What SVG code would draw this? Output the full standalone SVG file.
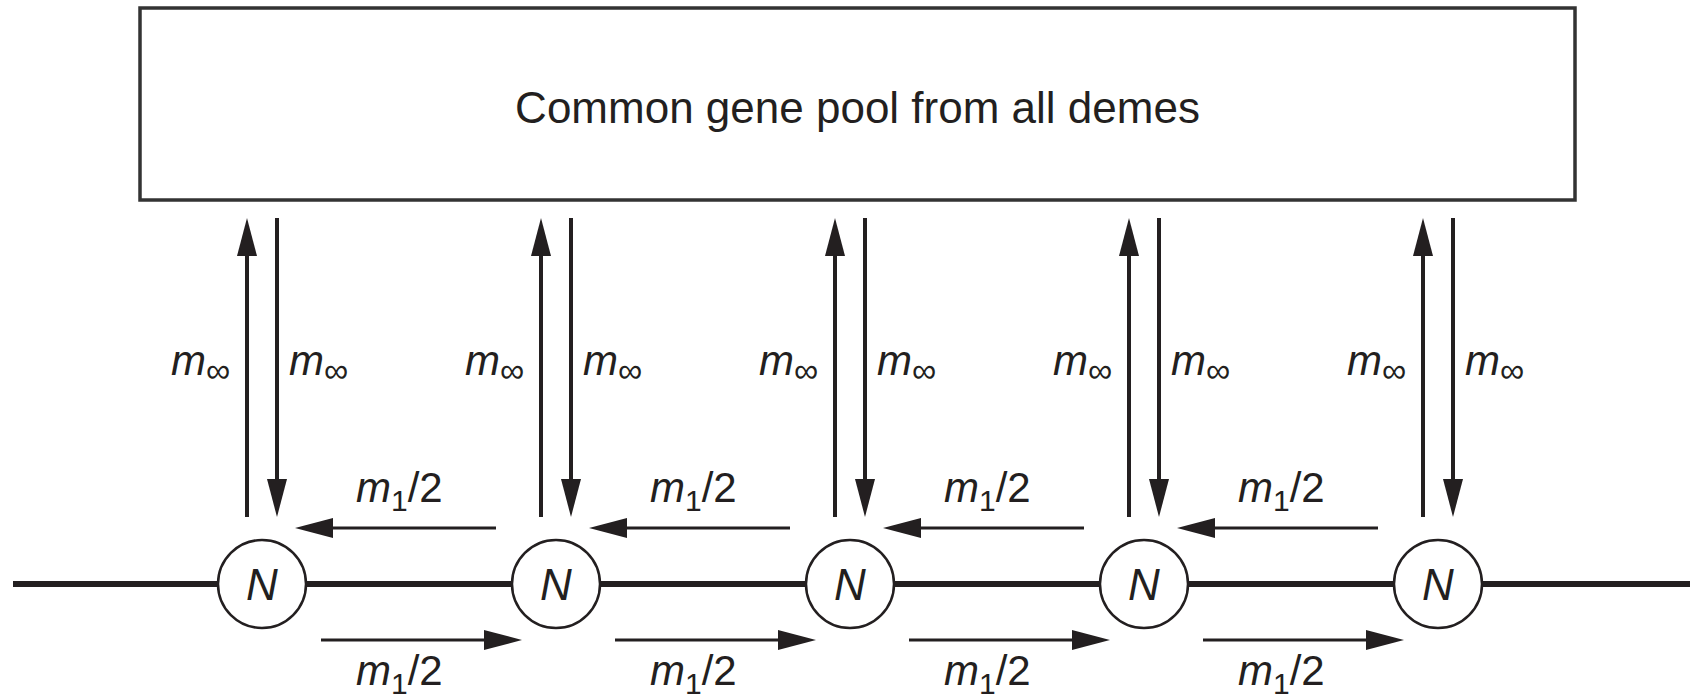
<svg xmlns="http://www.w3.org/2000/svg" width="1694" height="700" viewBox="0 0 1694 700">
<defs>
<marker id="ah" markerUnits="userSpaceOnUse" viewBox="0 0 38 20" refX="2" refY="10" markerWidth="38" markerHeight="20" orient="auto">
<path d="M0,0 L38,10 L0,20 z" fill="#231f20"/>
</marker>
</defs>
<style>
.box{fill:#fff;stroke:#333;stroke-width:3.5}
.title{font-family:"Liberation Sans",Arial,sans-serif;font-size:44px;fill:#231f20}
.lbl{font-family:"Liberation Sans",Arial,sans-serif;font-size:42px;fill:#231f20}
.it{font-style:italic}
.sub{font-size:30px}
.inf{font-size:34px}
.v{stroke:#231f20;stroke-width:4;fill:none}
.h{stroke:#231f20;stroke-width:3.2;fill:none}
.axis{stroke:#231f20;stroke-width:6;fill:none}
.node circle{fill:#fff;stroke:#231f20;stroke-width:2.5}
.node text{font-family:"Liberation Sans",Arial,sans-serif;font-style:italic;font-size:44px;fill:#231f20;text-anchor:middle}
</style>
<rect width="1694" height="700" fill="#fff"/>
<g id="pool">
<rect class="box" x="140" y="8" width="1435" height="192"/>
<text class="title" x="857.5" y="123" text-anchor="middle">Common gene pool from all demes</text>
</g>
<g id="connectors">
<line class="axis" x1="13" y1="584" x2="1690" y2="584"/>
<line class="v" x1="247" y1="517" x2="247" y2="254" marker-end="url(#ah)"/>
<line class="v" x1="277" y1="218" x2="277" y2="481" marker-end="url(#ah)"/>
<line class="v" x1="541" y1="517" x2="541" y2="254" marker-end="url(#ah)"/>
<line class="v" x1="571" y1="218" x2="571" y2="481" marker-end="url(#ah)"/>
<line class="v" x1="835" y1="517" x2="835" y2="254" marker-end="url(#ah)"/>
<line class="v" x1="865" y1="218" x2="865" y2="481" marker-end="url(#ah)"/>
<line class="v" x1="1129" y1="517" x2="1129" y2="254" marker-end="url(#ah)"/>
<line class="v" x1="1159" y1="218" x2="1159" y2="481" marker-end="url(#ah)"/>
<line class="v" x1="1423" y1="517" x2="1423" y2="254" marker-end="url(#ah)"/>
<line class="v" x1="1453" y1="218" x2="1453" y2="481" marker-end="url(#ah)"/>
<line class="h" x1="496" y1="528" x2="331" y2="528" marker-end="url(#ah)"/>
<line class="h" x1="790" y1="528" x2="625" y2="528" marker-end="url(#ah)"/>
<line class="h" x1="1084" y1="528" x2="919" y2="528" marker-end="url(#ah)"/>
<line class="h" x1="1378" y1="528" x2="1213" y2="528" marker-end="url(#ah)"/>
<line class="h" x1="321" y1="640" x2="486" y2="640" marker-end="url(#ah)"/>
<line class="h" x1="615" y1="640" x2="780" y2="640" marker-end="url(#ah)"/>
<line class="h" x1="909" y1="640" x2="1074" y2="640" marker-end="url(#ah)"/>
<line class="h" x1="1203" y1="640" x2="1368" y2="640" marker-end="url(#ah)"/>
</g>
<g id="labels">
<text class="lbl" x="171" y="375"><tspan class="it">m</tspan><tspan class="inf" dy="7">∞</tspan></text>
<text class="lbl" x="289" y="375"><tspan class="it">m</tspan><tspan class="inf" dy="7">∞</tspan></text>
<text class="lbl" x="465" y="375"><tspan class="it">m</tspan><tspan class="inf" dy="7">∞</tspan></text>
<text class="lbl" x="583" y="375"><tspan class="it">m</tspan><tspan class="inf" dy="7">∞</tspan></text>
<text class="lbl" x="759" y="375"><tspan class="it">m</tspan><tspan class="inf" dy="7">∞</tspan></text>
<text class="lbl" x="877" y="375"><tspan class="it">m</tspan><tspan class="inf" dy="7">∞</tspan></text>
<text class="lbl" x="1053" y="375"><tspan class="it">m</tspan><tspan class="inf" dy="7">∞</tspan></text>
<text class="lbl" x="1171" y="375"><tspan class="it">m</tspan><tspan class="inf" dy="7">∞</tspan></text>
<text class="lbl" x="1347" y="375"><tspan class="it">m</tspan><tspan class="inf" dy="7">∞</tspan></text>
<text class="lbl" x="1465" y="375"><tspan class="it">m</tspan><tspan class="inf" dy="7">∞</tspan></text>
<text class="lbl" x="356" y="502"><tspan class="it">m</tspan><tspan class="sub" dy="9">1</tspan><tspan dy="-9">/2</tspan></text>
<text class="lbl" x="650" y="502"><tspan class="it">m</tspan><tspan class="sub" dy="9">1</tspan><tspan dy="-9">/2</tspan></text>
<text class="lbl" x="944" y="502"><tspan class="it">m</tspan><tspan class="sub" dy="9">1</tspan><tspan dy="-9">/2</tspan></text>
<text class="lbl" x="1238" y="502"><tspan class="it">m</tspan><tspan class="sub" dy="9">1</tspan><tspan dy="-9">/2</tspan></text>
<text class="lbl" x="356" y="685"><tspan class="it">m</tspan><tspan class="sub" dy="9">1</tspan><tspan dy="-9">/2</tspan></text>
<text class="lbl" x="650" y="685"><tspan class="it">m</tspan><tspan class="sub" dy="9">1</tspan><tspan dy="-9">/2</tspan></text>
<text class="lbl" x="944" y="685"><tspan class="it">m</tspan><tspan class="sub" dy="9">1</tspan><tspan dy="-9">/2</tspan></text>
<text class="lbl" x="1238" y="685"><tspan class="it">m</tspan><tspan class="sub" dy="9">1</tspan><tspan dy="-9">/2</tspan></text>
</g>
<g id="deme1" class="node"><circle cx="262" cy="584" r="44"/><text x="262" y="600">N</text></g>
<g id="deme2" class="node"><circle cx="556" cy="584" r="44"/><text x="556" y="600">N</text></g>
<g id="deme3" class="node"><circle cx="850" cy="584" r="44"/><text x="850" y="600">N</text></g>
<g id="deme4" class="node"><circle cx="1144" cy="584" r="44"/><text x="1144" y="600">N</text></g>
<g id="deme5" class="node"><circle cx="1438" cy="584" r="44"/><text x="1438" y="600">N</text></g>
</svg>
